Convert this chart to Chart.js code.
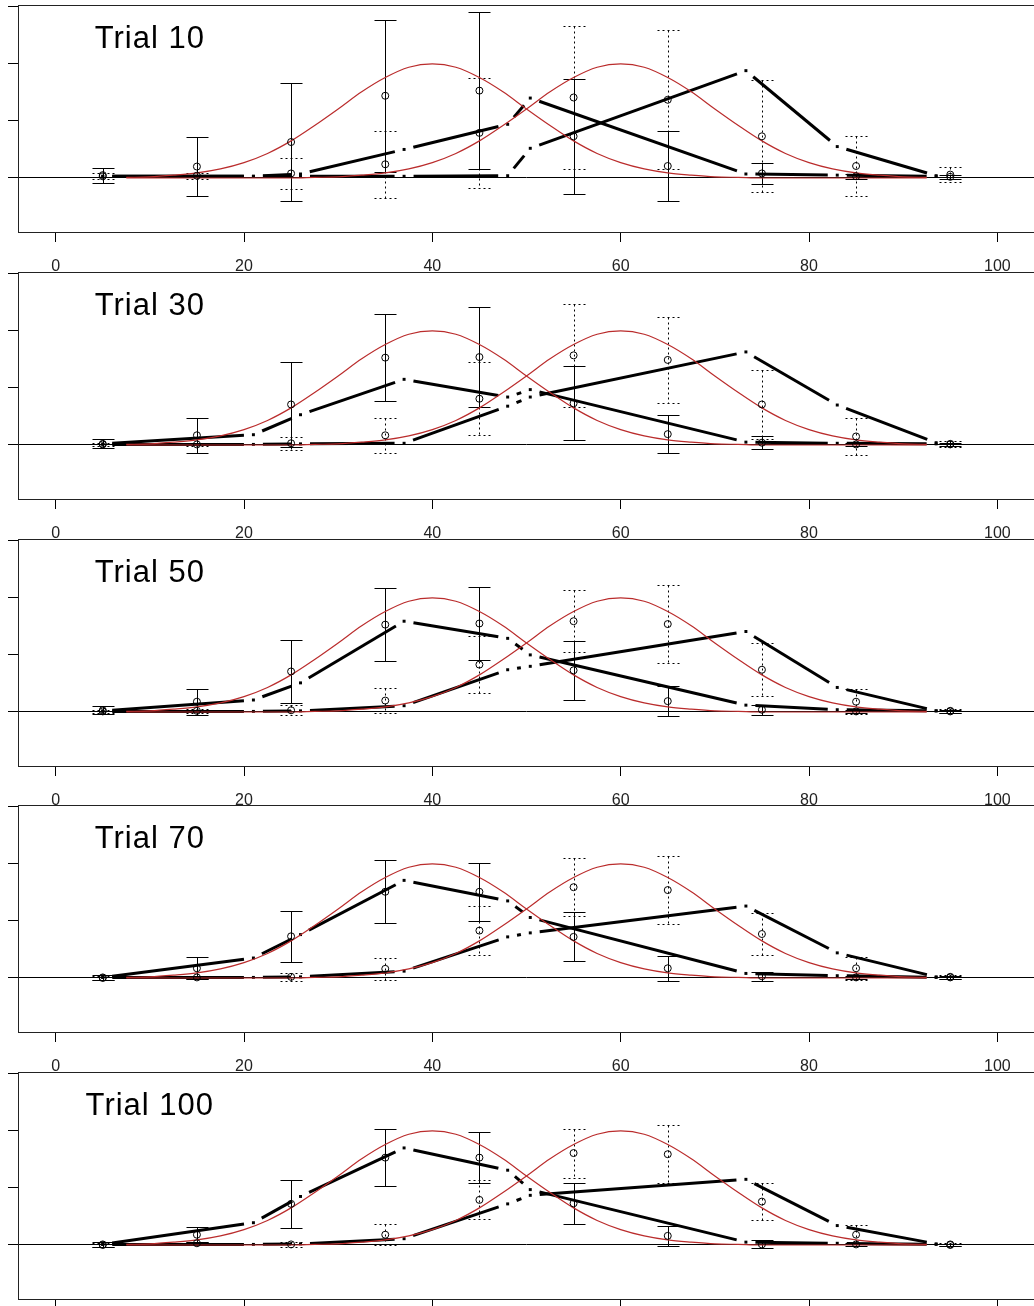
<!DOCTYPE html>
<html>
<head>
<meta charset="utf-8">
<script src="https://cdn.jsdelivr.net/npm/chart.js@4.4.0/dist/chart.umd.min.js"></script>
<style>
  html, body { margin: 0; padding: 0; background: #fff; overflow: hidden; }
  #wrap { position: relative; width: 1034px; height: 1306px; overflow: hidden; }
  #wrap canvas { position: absolute; left: 0; }
</style>
</head>
<body>
<div id="wrap"></div>
<script>
// panel labels and axis ticks
const trials = ['Trial 10', 'Trial 30', 'Trial 50', 'Trial 70', 'Trial 100'];
const xTicks = [0, 20, 40, 60, 80, 100];
const yTicks = [0, 1, 2, 3];

// observed means +- error, one row per trial (solid = left category, dotted = right)
const binX = [5, 15, 25, 35, 45, 55, 65, 75, 85, 95];
const meanA = [
    [0.05, 0.20, 0.63, 1.44, 1.53, 0.73, 0.21, 0.08, 0.03, 0.02],
    [0.02, 0.17, 0.71, 1.53, 1.54, 0.73, 0.19, 0.04, 0.01, 0.01],
    [0.03, 0.18, 0.71, 1.53, 1.55, 0.73, 0.19, 0.04, 0.01, 0.01],
    [0.01, 0.17, 0.73, 1.51, 1.51, 0.72, 0.17, 0.03, 0.01, 0.01],
    [0.01, 0.18, 0.72, 1.53, 1.53, 0.73, 0.16, 0.01, 0.01, 0.00]
];
const errA = [
    [0.13, 0.51, 1.04, 1.33, 1.37, 1.01, 0.61, 0.18, 0.04, 0.03],
    [0.08, 0.31, 0.75, 0.76, 0.88, 0.65, 0.33, 0.11, 0.02, 0.02],
    [0.07, 0.23, 0.55, 0.64, 0.64, 0.52, 0.26, 0.09, 0.02, 0.02],
    [0.05, 0.19, 0.45, 0.55, 0.51, 0.43, 0.22, 0.08, 0.02, 0.02],
    [0.04, 0.13, 0.42, 0.50, 0.45, 0.36, 0.18, 0.07, 0.02, 0.02]
];
const meanB = [
    [0.03, 0.04, 0.08, 0.24, 0.79, 1.41, 1.37, 0.73, 0.21, 0.06],
    [0.01, 0.01, 0.03, 0.17, 0.81, 1.57, 1.49, 0.71, 0.15, 0.02],
    [0.01, 0.02, 0.03, 0.20, 0.83, 1.59, 1.54, 0.74, 0.18, 0.02],
    [0.00, 0.01, 0.02, 0.16, 0.83, 1.59, 1.54, 0.77, 0.17, 0.02],
    [0.00, 0.03, 0.01, 0.18, 0.79, 1.61, 1.59, 0.76, 0.18, 0.01]
];
const errB = [
    [0.05, 0.05, 0.27, 0.59, 0.96, 1.25, 1.22, 0.98, 0.53, 0.13],
    [0.03, 0.03, 0.11, 0.31, 0.64, 0.90, 0.75, 0.61, 0.32, 0.05],
    [0.03, 0.04, 0.09, 0.22, 0.50, 0.54, 0.68, 0.46, 0.22, 0.04],
    [0.03, 0.03, 0.07, 0.19, 0.43, 0.51, 0.59, 0.36, 0.20, 0.04],
    [0.03, 0.03, 0.04, 0.18, 0.34, 0.43, 0.51, 0.32, 0.17, 0.03]
];

// model lines (thick dash-dot), values at the knots
const knotX = [5, 21, 26, 37, 48, 50.4, 73.3, 83, 93.5];
const lineA = [
    [0.03, 0.03, 0.07, 0.50, 0.94, 1.40, 0.07, 0.05, 0.03],
    [0.02, 0.18, 0.53, 1.15, 0.84, 0.97, 0.05, 0.03, 0.02],
    [0.02, 0.21, 0.51, 1.59, 1.29, 1.00, 0.12, 0.04, 0.02],
    [0.01, 0.35, 0.76, 1.71, 1.35, 1.06, 0.08, 0.04, 0.01],
    [0.01, 0.39, 0.85, 1.70, 1.31, 0.97, 0.05, 0.03, 0.01]
];
const lineB = [
    [0.03, 0.03, 0.03, 0.03, 0.04, 0.52, 1.88, 0.55, 0.04],
    [0.01, 0.01, 0.02, 0.03, 0.68, 0.84, 1.63, 0.70, 0.04],
    [0.01, 0.01, 0.02, 0.11, 0.74, 0.80, 1.41, 0.43, 0.02],
    [0.01, 0.01, 0.02, 0.12, 0.72, 0.79, 1.26, 0.44, 0.02],
    [0.01, 0.01, 0.02, 0.11, 0.72, 0.87, 1.15, 0.34, 0.02]
];

// red category curves (same in every panel)
const curveX = [7.5, 10, 12.5, 15, 17.5, 20, 22.5, 25, 27.5, 30, 32.5, 35, 37.5, 40, 42.5, 45, 47.5,
    50, 52.5, 55, 57.5, 60, 62.5, 65, 67.5, 70, 72.5, 75, 77.5, 80, 82.5, 85, 87.5, 90, 92.5];
const curveLeft = [0.01, 0.02, 0.05, 0.09, 0.16, 0.27, 0.43, 0.65, 0.92, 1.21, 1.51, 1.76, 1.94, 2.00,
    1.94, 1.76, 1.51, 1.21, 0.92, 0.65, 0.43, 0.27, 0.16, 0.09, 0.05, 0.02, 0.01, 0, 0, 0, 0, 0, 0, 0, 0];
const curveRight = [0, 0, 0, 0, 0, 0, 0, 0, 0.01, 0.02, 0.05, 0.09, 0.16, 0.27, 0.43, 0.65, 0.92,
    1.21, 1.51, 1.76, 1.94, 2.00, 1.94, 1.76, 1.51, 1.21, 0.92, 0.65, 0.43, 0.27, 0.16, 0.09, 0.05, 0.02, 0.01];

const titlePos = [10, 2.27];

// page layout
const boxTops = [5, 272, 539, 805, 1072];
const CANVAS_W = 1040, CANVAS_H = 285, PAD_TOP = 10;
const KNOT_GAP = 9.5;

const pts = (xs, ys) => xs.map((x, i) => ({ x: x, y: ys[i] }));

// each knot-to-knot piece: gap, dash, gap (dot drawn as the point)
const knotDash = ctx => {
    const L = Math.hypot(ctx.p1.x - ctx.p0.x, ctx.p1.y - ctx.p0.y);
    return [0, KNOT_GAP, Math.max(L - 2 * KNOT_GAP, 0.5), 3000 + ctx.p0DataIndex];
};

const errorBars = {
    id: 'errorBars',
    beforeDatasetsDraw(chart, args, opts) {
        const k = opts.panel;
        const { ctx, scales: { x, y } } = chart;
        ctx.save();
        ctx.strokeStyle = '#000';
        ctx.lineWidth = 1;
        [[meanB, errB, [2, 3]], [meanA, errA, []]].forEach(([m, e, dash]) => {
            ctx.setLineDash(dash);
            binX.forEach((bx, i) => {
                const px = Math.round(x.getPixelForValue(bx)) + 0.5;
                const top = Math.round(y.getPixelForValue(m[k][i] + e[k][i])) + 0.5;
                const bot = Math.round(y.getPixelForValue(m[k][i] - e[k][i])) + 0.5;
                ctx.beginPath();
                ctx.moveTo(px, top); ctx.lineTo(px, bot);
                ctx.moveTo(px - 11, top); ctx.lineTo(px + 11, top);
                ctx.moveTo(px - 11, bot); ctx.lineTo(px + 11, bot);
                ctx.stroke();
            });
        });
        ctx.restore();
    }
};

const frame = {
    id: 'frame',
    afterDraw(chart, args, opts) {
        const { ctx, chartArea: a, scales: { x, y } } = chart;
        ctx.save();
        ctx.strokeStyle = '#222';
        ctx.lineWidth = 1;
        ctx.strokeRect(a.left + 0.5, a.top + 0.5, a.right - a.left, a.bottom - a.top);
        ctx.fillStyle = '#000';
        ctx.font = '31px "Liberation Sans", Arial, sans-serif';
        ctx.letterSpacing = '1px';
        ctx.textAlign = 'center';
        ctx.textBaseline = 'alphabetic';
        ctx.fillText(trials[opts.panel], x.getPixelForValue(titlePos[0]), y.getPixelForValue(titlePos[1]));
        ctx.restore();
    }
};

const wrap = document.getElementById('wrap');

trials.forEach((name, k) => {
    const canvas = document.createElement('canvas');
    canvas.width = CANVAS_W;
    canvas.height = CANVAS_H;
    canvas.style.top = (boxTops[k] - PAD_TOP) + 'px';
    canvas.style.width = CANVAS_W + 'px';
    canvas.style.height = CANVAS_H + 'px';
    wrap.appendChild(canvas);

    new Chart(canvas, {
        type: 'line',
        data: {
            datasets: [
                {
                    label: 'obs A', data: pts(binX, meanA[k]), showLine: false,
                    pointRadius: 3.5, pointBorderWidth: 1, pointBorderColor: '#000',
                    pointBackgroundColor: 'rgba(0,0,0,0)'
                },
                {
                    label: 'obs B', data: pts(binX, meanB[k]), showLine: false,
                    pointRadius: 3.5, pointBorderWidth: 1, pointBorderColor: '#000',
                    pointBackgroundColor: 'rgba(0,0,0,0)'
                },
                {
                    label: 'curve left', data: pts(curveX, curveLeft), borderColor: 'rgb(186,44,44)',
                    borderWidth: 1.2, pointRadius: 0, cubicInterpolationMode: 'monotone'
                },
                {
                    label: 'curve right', data: pts(curveX, curveRight), borderColor: 'rgb(186,44,44)',
                    borderWidth: 1.2, pointRadius: 0, cubicInterpolationMode: 'monotone'
                },
                {
                    label: 'model A', data: pts(knotX, lineA[k]), borderColor: '#000', borderWidth: 3,
                    borderCapStyle: 'butt', pointStyle: 'rect', pointRadius: 2.1, pointBorderWidth: 0,
                    pointBackgroundColor: '#000', segment: { borderDash: knotDash }
                },
                {
                    label: 'model B', data: pts(knotX, lineB[k]), borderColor: '#000', borderWidth: 3,
                    borderCapStyle: 'butt', pointStyle: 'rect', pointRadius: 2.1, pointBorderWidth: 0,
                    pointBackgroundColor: '#000', segment: { borderDash: knotDash }
                }
            ]
        },
        options: {
            responsive: false,
            animation: false,
            devicePixelRatio: 1,
            layout: { padding: { top: PAD_TOP, left: 8, right: CANVAS_W - 1035, bottom: 0 } },
            plugins: {
                legend: { display: false },
                tooltip: { enabled: false },
                errorBars: { panel: k },
                frame: { panel: k }
            },
            scales: {
                x: {
                    type: 'linear',
                    min: -4,
                    max: 104,
                    afterBuildTicks: s => { s.ticks = xTicks.map(v => ({ value: v })); },
                    afterFit: s => { s.height = 48; },
                    border: { display: false },
                    grid: { drawOnChartArea: false, drawTicks: true, tickLength: 10, color: '#000', lineWidth: 1 },
                    ticks: {
                        color: '#222',
                        padding: 15,
                        maxRotation: 0,
                        font: { family: '"Liberation Sans", Arial, sans-serif', size: 16 },
                        callback: v => String(v)
                    }
                },
                y: {
                    type: 'linear',
                    min: -0.946,
                    max: 3.03,
                    afterBuildTicks: s => { s.ticks = yTicks.map(v => ({ value: v })); },
                    afterFit: s => { s.width = 10; },
                    border: { display: false },
                    grid: {
                        drawTicks: true,
                        tickLength: 10,
                        lineWidth: 1,
                        tickColor: '#000',
                        color: c => (c.tick && c.tick.value === 0) ? '#000' : 'rgba(0,0,0,0)'
                    },
                    ticks: { display: false }
                }
            }
        },
        plugins: [errorBars, frame]
    });
});
</script>
</body>
</html>
